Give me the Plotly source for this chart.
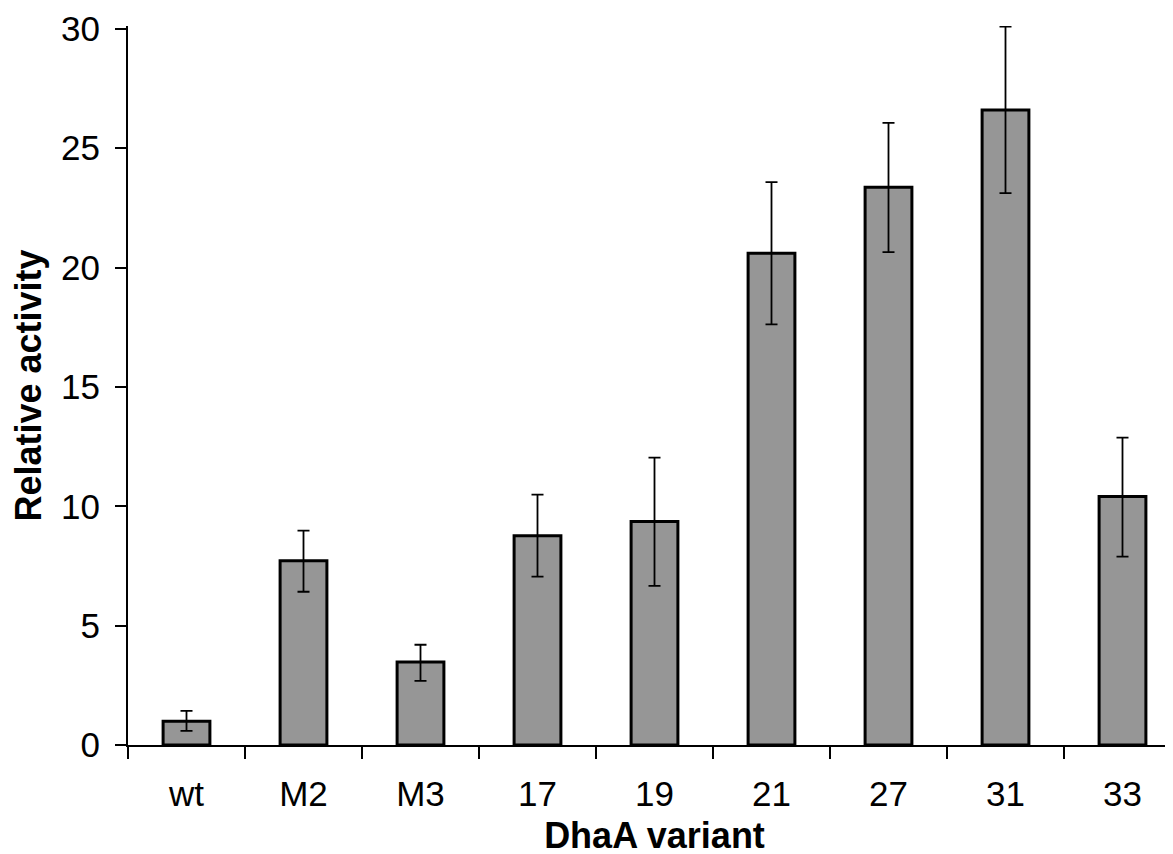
import plotly.graph_objects as go

categories = ["wt", "M2", "M3", "17", "19", "21", "27", "31", "33"]
activity = [1.0, 7.72, 3.48, 8.77, 9.36, 20.6, 23.37, 26.6, 10.41]
err_plus = [0.43, 1.26, 0.72, 1.72, 2.68, 2.98, 2.69, 3.49, 2.47]
err_minus = [0.41, 1.30, 0.79, 1.72, 2.69, 2.98, 2.72, 3.48, 2.52]

fig = go.Figure()
fig.add_trace(go.Bar(
    x=categories,
    y=activity,
    width=0.4,
    marker=dict(color="#969696", line=dict(color="black", width=3)),
    error_y=dict(type="data", symmetric=False, array=err_plus, arrayminus=err_minus,
                 color="black", thickness=1.8, width=6),
))

font_family = "Liberation Sans, Arial, sans-serif"
fs = 35
fig.update_layout(
    width=1173, height=854,
    margin=dict(l=120, r=0, t=18, b=117),
    plot_bgcolor="white", paper_bgcolor="white",
    showlegend=False,
    font=dict(family=font_family, size=fs, color="black"),
)
fig.update_xaxes(
    type="category",
    range=[-0.5, 8.5],
    automargin=False,
    showline=True, linecolor="black", linewidth=2,
    ticks="outside", tickson="boundaries", ticklen=12, tickwidth=2, tickcolor="black",
    ticklabelstandoff=17,
    tickfont=dict(size=fs),
    showgrid=False, zeroline=False,
    title=dict(text="<b>DhaA variant</b>", font=dict(size=36), standoff=11),
)
fig.update_yaxes(
    range=[0, 30.12],
    tickvals=[0, 5, 10, 15, 20, 25, 30],
    automargin=False,
    showline=True, linecolor="black", linewidth=2,
    ticks="outside", ticklen=11, tickwidth=2, tickcolor="black",
    ticklabelstandoff=8,
    tickfont=dict(size=fs),
    showgrid=False, zeroline=False,
    title=dict(text="<b>Relative activity</b>", font=dict(size=36), standoff=12),
)

fig.write_html("out.html")
